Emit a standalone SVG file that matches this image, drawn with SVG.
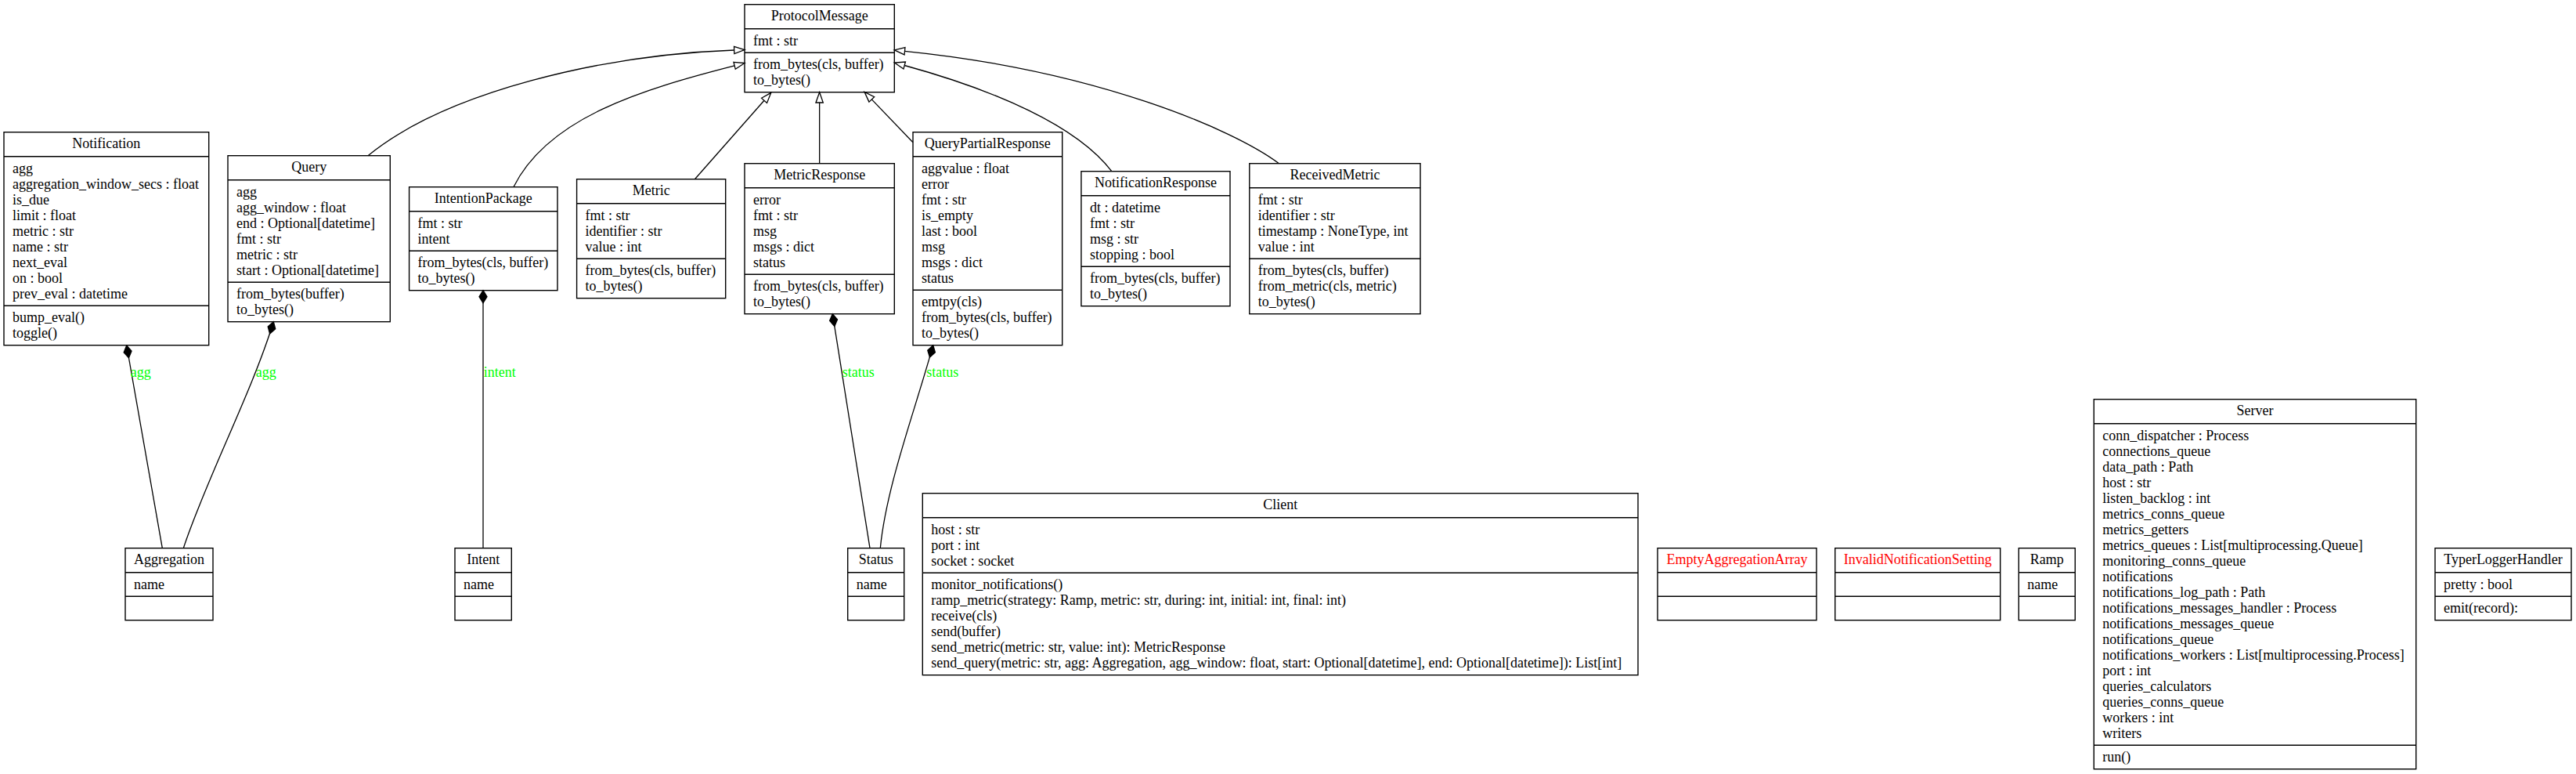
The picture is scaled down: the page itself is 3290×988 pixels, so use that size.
<svg xmlns="http://www.w3.org/2000/svg" width="3290" height="988" viewBox="0 0 3290 988">
<style>
.bg{fill:#fff}
.box{fill:none;stroke:#000;stroke-width:1.4}
.sep{stroke:#000;stroke-width:1.4}
text{font-family:"Liberation Serif","Times New Roman",serif;font-size:18px;fill:#000}
.ttl{text-anchor:middle}
.exc{fill:#ff0000}
.lbl{fill:#00ff00}
.edge{fill:none;stroke:#000;stroke-width:1.3}
.inh{marker-end:url(#tri)}
.comp{marker-start:url(#dia)}
</style>
<defs>
<marker id="tri" markerUnits="userSpaceOnUse" markerWidth="15" markerHeight="11" refX="0.7" refY="5.5" orient="auto" overflow="visible"><path d="M0.7,0.83 L14,5.5 L0.7,10.17 Z" fill="#fff" stroke="#000" stroke-width="1.3"/></marker>
<marker id="dia" markerUnits="userSpaceOnUse" markerWidth="18" markerHeight="12" refX="0.7" refY="6" orient="auto" overflow="visible"><path d="M0.7,6 L8.7,1 L16.7,6 L8.7,11 Z" fill="#000" stroke="#000" stroke-width="1.3"/></marker>
</defs>
<rect class="bg" x="0" y="0" width="3290" height="988"/>

<g id="connectors">
<path class="edge inh" d="M470,198.7 C570,117 770,70 937.7,64"/>
<path class="edge inh" d="M655.9,238.7 C700,150 820,114 938.1,83.8"/>
<path class="edge inh" d="M887.4,228.7 L976,128.3"/>
<path class="edge inh" d="M1046.65,208.7 L1046.65,131"/>
<path class="edge inh" d="M1166,181.7 L1113.3,126.9"/>
<path class="edge inh" d="M1419.8,218.7 C1375,160 1270,115 1155.2,83.5"/>
<path class="edge inh" d="M1633.5,208.7 C1575,165 1400,90 1155.5,65.3"/>
<path class="edge comp" d="M161.7,441 L207.3,699.7"/>
<path class="edge comp" d="M349.3,410.7 C322,500 262,615 234.3,699.7"/>
<path class="edge comp" d="M617,370.7 L617,699.7"/>
<path class="edge comp" d="M1063.3,400.7 L1111,699.7"/>
<path class="edge comp" d="M1191.7,440.7 C1170,520 1132,620 1124.3,699.7"/>
<text class="lbl" x="166.7" y="480.5">agg</text>
<text class="lbl" x="326.7" y="480.5">agg</text>
<text class="lbl" x="617.7" y="480.5">intent</text>
<text class="lbl" x="1075.7" y="480.5">status</text>
<text class="lbl" x="1183.3" y="480.5">status</text>
</g>

<g id="ProtocolMessage">
<rect class="box" x="951" y="5.7" width="191.3" height="112"/>
<line class="sep" x1="951" y1="36.7" x2="1142.3" y2="36.7"/>
<line class="sep" x1="951" y1="67.2" x2="1142.3" y2="67.2"/>
<text class="ttl" x="1046.65" y="26.2">ProtocolMessage</text>
<text x="962" y="57.7">fmt : str</text>
<text x="962" y="88.2">from_bytes(cls, buffer)<tspan x="962" dy="20">to_bytes()</tspan></text>
</g>

<g id="Notification">
<rect class="box" x="5" y="168.7" width="261.7" height="272"/>
<line class="sep" x1="5" y1="199.7" x2="266.7" y2="199.7"/>
<line class="sep" x1="5" y1="390.2" x2="266.7" y2="390.2"/>
<text class="ttl" x="135.85" y="189.2">Notification</text>
<text x="16" y="220.7">agg<tspan x="16" dy="20">aggregation_window_secs : float</tspan><tspan x="16" dy="20">is_due</tspan><tspan x="16" dy="20">limit : float</tspan><tspan x="16" dy="20">metric : str</tspan><tspan x="16" dy="20">name : str</tspan><tspan x="16" dy="20">next_eval</tspan><tspan x="16" dy="20">on : bool</tspan><tspan x="16" dy="20">prev_eval : datetime</tspan></text>
<text x="16" y="411.2">bump_eval()<tspan x="16" dy="20">toggle()</tspan></text>
</g>

<g id="Query">
<rect class="box" x="291" y="198.7" width="207.3" height="212"/>
<line class="sep" x1="291" y1="229.7" x2="498.3" y2="229.7"/>
<line class="sep" x1="291" y1="360.2" x2="498.3" y2="360.2"/>
<text class="ttl" x="394.65" y="219.2">Query</text>
<text x="302" y="250.7">agg<tspan x="302" dy="20">agg_window : float</tspan><tspan x="302" dy="20">end : Optional[datetime]</tspan><tspan x="302" dy="20">fmt : str</tspan><tspan x="302" dy="20">metric : str</tspan><tspan x="302" dy="20">start : Optional[datetime]</tspan></text>
<text x="302" y="381.2">from_bytes(buffer)<tspan x="302" dy="20">to_bytes()</tspan></text>
</g>

<g id="IntentionPackage">
<rect class="box" x="522.6" y="238.7" width="189.4" height="132"/>
<line class="sep" x1="522.6" y1="269.7" x2="712" y2="269.7"/>
<line class="sep" x1="522.6" y1="320.2" x2="712" y2="320.2"/>
<text class="ttl" x="617.3" y="259.2">IntentionPackage</text>
<text x="533.6" y="290.7">fmt : str<tspan x="533.6" dy="20">intent</tspan></text>
<text x="533.6" y="341.2">from_bytes(cls, buffer)<tspan x="533.6" dy="20">to_bytes()</tspan></text>
</g>

<g id="Metric">
<rect class="box" x="736.6" y="228.7" width="190.1" height="152"/>
<line class="sep" x1="736.6" y1="259.7" x2="926.7" y2="259.7"/>
<line class="sep" x1="736.6" y1="330.2" x2="926.7" y2="330.2"/>
<text class="ttl" x="831.65" y="249.2">Metric</text>
<text x="747.6" y="280.7">fmt : str<tspan x="747.6" dy="20">identifier : str</tspan><tspan x="747.6" dy="20">value : int</tspan></text>
<text x="747.6" y="351.2">from_bytes(cls, buffer)<tspan x="747.6" dy="20">to_bytes()</tspan></text>
</g>

<g id="MetricResponse">
<rect class="box" x="951" y="208.7" width="191.3" height="192"/>
<line class="sep" x1="951" y1="239.7" x2="1142.3" y2="239.7"/>
<line class="sep" x1="951" y1="350.2" x2="1142.3" y2="350.2"/>
<text class="ttl" x="1046.65" y="229.2">MetricResponse</text>
<text x="962" y="260.7">error<tspan x="962" dy="20">fmt : str</tspan><tspan x="962" dy="20">msg</tspan><tspan x="962" dy="20">msgs : dict</tspan><tspan x="962" dy="20">status</tspan></text>
<text x="962" y="371.2">from_bytes(cls, buffer)<tspan x="962" dy="20">to_bytes()</tspan></text>
</g>

<g id="QueryPartialResponse">
<rect class="box" x="1166" y="168.7" width="190.7" height="272"/>
<line class="sep" x1="1166" y1="199.7" x2="1356.7" y2="199.7"/>
<line class="sep" x1="1166" y1="370.2" x2="1356.7" y2="370.2"/>
<text class="ttl" x="1261.35" y="189.2">QueryPartialResponse</text>
<text x="1177" y="220.7">aggvalue : float<tspan x="1177" dy="20">error</tspan><tspan x="1177" dy="20">fmt : str</tspan><tspan x="1177" dy="20">is_empty</tspan><tspan x="1177" dy="20">last : bool</tspan><tspan x="1177" dy="20">msg</tspan><tspan x="1177" dy="20">msgs : dict</tspan><tspan x="1177" dy="20">status</tspan></text>
<text x="1177" y="391.2">emtpy(cls)<tspan x="1177" dy="20">from_bytes(cls, buffer)</tspan><tspan x="1177" dy="20">to_bytes()</tspan></text>
</g>

<g id="NotificationResponse">
<rect class="box" x="1380.9" y="218.7" width="190.1" height="172"/>
<line class="sep" x1="1380.9" y1="249.7" x2="1571" y2="249.7"/>
<line class="sep" x1="1380.9" y1="340.2" x2="1571" y2="340.2"/>
<text class="ttl" x="1475.95" y="239.2">NotificationResponse</text>
<text x="1391.9" y="270.7">dt : datetime<tspan x="1391.9" dy="20">fmt : str</tspan><tspan x="1391.9" dy="20">msg : str</tspan><tspan x="1391.9" dy="20">stopping : bool</tspan></text>
<text x="1391.9" y="361.2">from_bytes(cls, buffer)<tspan x="1391.9" dy="20">to_bytes()</tspan></text>
</g>

<g id="ReceivedMetric">
<rect class="box" x="1595.8" y="208.7" width="218.2" height="192"/>
<line class="sep" x1="1595.8" y1="239.7" x2="1814" y2="239.7"/>
<line class="sep" x1="1595.8" y1="330.2" x2="1814" y2="330.2"/>
<text class="ttl" x="1704.9" y="229.2">ReceivedMetric</text>
<text x="1606.8" y="260.7">fmt : str<tspan x="1606.8" dy="20">identifier : str</tspan><tspan x="1606.8" dy="20">timestamp : NoneType, int</tspan><tspan x="1606.8" dy="20">value : int</tspan></text>
<text x="1606.8" y="351.2">from_bytes(cls, buffer)<tspan x="1606.8" dy="20">from_metric(cls, metric)</tspan><tspan x="1606.8" dy="20">to_bytes()</tspan></text>
</g>

<g id="Aggregation">
<rect class="box" x="160" y="699.7" width="112" height="92"/>
<line class="sep" x1="160" y1="730.7" x2="272" y2="730.7"/>
<line class="sep" x1="160" y1="761.2" x2="272" y2="761.2"/>
<text class="ttl" x="216" y="720.2">Aggregation</text>
<text x="171" y="751.7">name</text>
</g>

<g id="Intent">
<rect class="box" x="581" y="699.7" width="72.3" height="92"/>
<line class="sep" x1="581" y1="730.7" x2="653.3" y2="730.7"/>
<line class="sep" x1="581" y1="761.2" x2="653.3" y2="761.2"/>
<text class="ttl" x="617.15" y="720.2">Intent</text>
<text x="592" y="751.7">name</text>
</g>

<g id="Status">
<rect class="box" x="1082.7" y="699.7" width="72" height="92"/>
<line class="sep" x1="1082.7" y1="730.7" x2="1154.7" y2="730.7"/>
<line class="sep" x1="1082.7" y1="761.2" x2="1154.7" y2="761.2"/>
<text class="ttl" x="1118.7" y="720.2">Status</text>
<text x="1093.7" y="751.7">name</text>
</g>

<g id="Client">
<rect class="box" x="1178.3" y="629.7" width="913.7" height="232"/>
<line class="sep" x1="1178.3" y1="660.7" x2="2092" y2="660.7"/>
<line class="sep" x1="1178.3" y1="731.2" x2="2092" y2="731.2"/>
<text class="ttl" x="1635.15" y="650.2">Client</text>
<text x="1189.3" y="681.7">host : str<tspan x="1189.3" dy="20">port : int</tspan><tspan x="1189.3" dy="20">socket : socket</tspan></text>
<text x="1189.3" y="752.2">monitor_notifications()<tspan x="1189.3" dy="20">ramp_metric(strategy: Ramp, metric: str, during: int, initial: int, final: int)</tspan><tspan x="1189.3" dy="20">receive(cls)</tspan><tspan x="1189.3" dy="20">send(buffer)</tspan><tspan x="1189.3" dy="20">send_metric(metric: str, value: int): MetricResponse</tspan><tspan x="1189.3" dy="20">send_query(metric: str, agg: Aggregation, agg_window: float, start: Optional[datetime], end: Optional[datetime]): List[int]</tspan></text>
</g>

<g id="EmptyAggregationArray">
<rect class="box" x="2117" y="699.7" width="203" height="92"/>
<line class="sep" x1="2117" y1="730.7" x2="2320" y2="730.7"/>
<line class="sep" x1="2117" y1="761.2" x2="2320" y2="761.2"/>
<text class="ttl exc" x="2218.5" y="720.2">EmptyAggregationArray</text>
</g>

<g id="InvalidNotificationSetting">
<rect class="box" x="2343.7" y="699.7" width="211" height="92"/>
<line class="sep" x1="2343.7" y1="730.7" x2="2554.7" y2="730.7"/>
<line class="sep" x1="2343.7" y1="761.2" x2="2554.7" y2="761.2"/>
<text class="ttl exc" x="2449.2" y="720.2">InvalidNotificationSetting</text>
</g>

<g id="Ramp">
<rect class="box" x="2578.3" y="699.7" width="72" height="92"/>
<line class="sep" x1="2578.3" y1="730.7" x2="2650.3" y2="730.7"/>
<line class="sep" x1="2578.3" y1="761.2" x2="2650.3" y2="761.2"/>
<text class="ttl" x="2614.3" y="720.2">Ramp</text>
<text x="2589.3" y="751.7">name</text>
</g>

<g id="Server">
<rect class="box" x="2674.3" y="509.7" width="411.4" height="472"/>
<line class="sep" x1="2674.3" y1="540.7" x2="3085.7" y2="540.7"/>
<line class="sep" x1="2674.3" y1="951.2" x2="3085.7" y2="951.2"/>
<text class="ttl" x="2880" y="530.2">Server</text>
<text x="2685.3" y="561.7">conn_dispatcher : Process<tspan x="2685.3" dy="20">connections_queue</tspan><tspan x="2685.3" dy="20">data_path : Path</tspan><tspan x="2685.3" dy="20">host : str</tspan><tspan x="2685.3" dy="20">listen_backlog : int</tspan><tspan x="2685.3" dy="20">metrics_conns_queue</tspan><tspan x="2685.3" dy="20">metrics_getters</tspan><tspan x="2685.3" dy="20">metrics_queues : List[multiprocessing.Queue]</tspan><tspan x="2685.3" dy="20">monitoring_conns_queue</tspan><tspan x="2685.3" dy="20">notifications</tspan><tspan x="2685.3" dy="20">notifications_log_path : Path</tspan><tspan x="2685.3" dy="20">notifications_messages_handler : Process</tspan><tspan x="2685.3" dy="20">notifications_messages_queue</tspan><tspan x="2685.3" dy="20">notifications_queue</tspan><tspan x="2685.3" dy="20">notifications_workers : List[multiprocessing.Process]</tspan><tspan x="2685.3" dy="20">port : int</tspan><tspan x="2685.3" dy="20">queries_calculators</tspan><tspan x="2685.3" dy="20">queries_conns_queue</tspan><tspan x="2685.3" dy="20">workers : int</tspan><tspan x="2685.3" dy="20">writers</tspan></text>
<text x="2685.3" y="972.2">run()</text>
</g>

<g id="TyperLoggerHandler">
<rect class="box" x="3110" y="699.7" width="174" height="92"/>
<line class="sep" x1="3110" y1="730.7" x2="3284" y2="730.7"/>
<line class="sep" x1="3110" y1="761.2" x2="3284" y2="761.2"/>
<text class="ttl" x="3197" y="720.2">TyperLoggerHandler</text>
<text x="3121" y="751.7">pretty : bool</text>
<text x="3121" y="782.2">emit(record):</text>
</g>
</svg>
